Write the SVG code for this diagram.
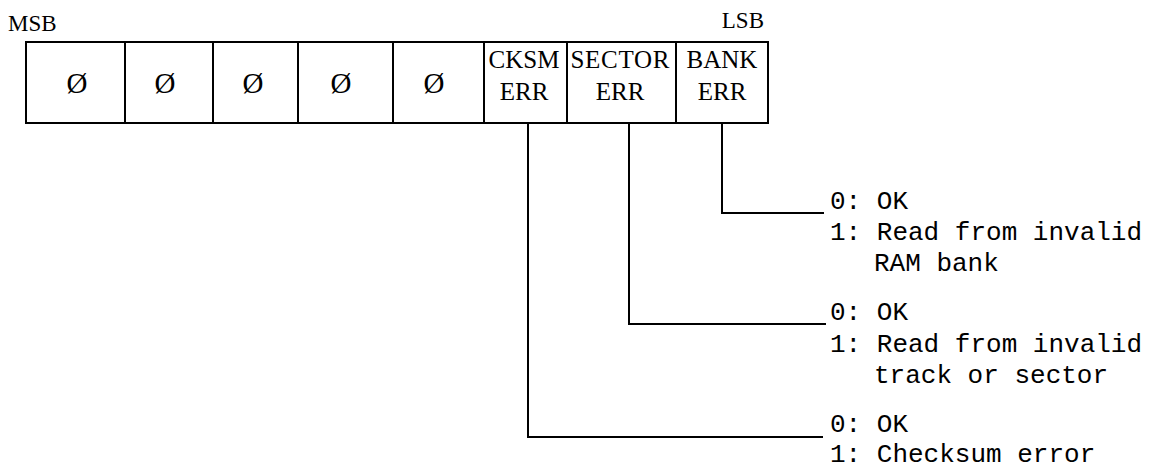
<svg xmlns="http://www.w3.org/2000/svg" width="1164" height="468" viewBox="0 0 1164 468">
<style>
.ln{fill:none;stroke:#000;stroke-width:2;stroke-linecap:square}
.lbl{font-family:"Liberation Serif",serif;font-size:25px;fill:#000}
.sml{font-family:"Liberation Serif",serif;font-size:23px;fill:#000}
.z{font-family:"Liberation Serif",serif;font-size:29px;fill:#000;text-anchor:middle}
.c{text-anchor:middle}
.d{font-family:"Liberation Mono",monospace;font-size:26px;fill:#000}
</style>
<rect width="1164" height="468" fill="#fff"/>
<text class="sml" x="8" y="31">MSB</text>
<text class="sml" x="764" y="28" text-anchor="end">LSB</text>
<g id="register">
<rect class="ln" x="26" y="42" width="742" height="81"/>
</g>
<g id="bit7"><line class="ln" x1="125" y1="42" x2="125" y2="123"/><text class="z" x="77" y="93">Ø</text></g>
<g id="bit6"><line class="ln" x1="213" y1="42" x2="213" y2="123"/><text class="z" x="165" y="93">Ø</text></g>
<g id="bit5"><line class="ln" x1="298" y1="42" x2="298" y2="123"/><text class="z" x="253" y="93">Ø</text></g>
<g id="bit4"><line class="ln" x1="393" y1="42" x2="393" y2="123"/><text class="z" x="341" y="93">Ø</text></g>
<g id="bit3"><line class="ln" x1="484" y1="42" x2="484" y2="123"/><text class="z" x="434" y="93">Ø</text></g>
<g id="bit2"><line class="ln" x1="567" y1="42" x2="567" y2="123"/><text class="lbl c" x="524" y="68">CKSM</text><text class="lbl c" x="524" y="100">ERR</text></g>
<g id="bit1"><line class="ln" x1="676" y1="42" x2="676" y2="123"/><text class="lbl c" x="620" y="68" textLength="99">SECTOR</text><text class="lbl c" x="620" y="100">ERR</text></g>
<g id="bit0"><text class="lbl c" x="722" y="68">BANK</text><text class="lbl c" x="722" y="100">ERR</text></g>
<g id="connectors">
<polyline class="ln" points="722,123 722,213 823,213"/>
<polyline class="ln" points="629,123 629,324 825,324"/>
<polyline class="ln" points="528,123 528,437 822,437"/>
</g>
<g id="bank-desc">
<text class="d" x="830" y="209">0: OK</text>
<text class="d" x="830" y="240">1: Read from invalid</text>
<text class="d" x="874" y="271">RAM bank</text>
</g>
<g id="sector-desc">
<text class="d" x="830" y="320">0: OK</text>
<text class="d" x="830" y="352">1: Read from invalid</text>
<text class="d" x="874" y="383">track or sector</text>
</g>
<g id="cksm-desc">
<text class="d" x="830" y="432">0: OK</text>
<text class="d" x="830" y="462">1: Checksum error</text>
</g>
</svg>
